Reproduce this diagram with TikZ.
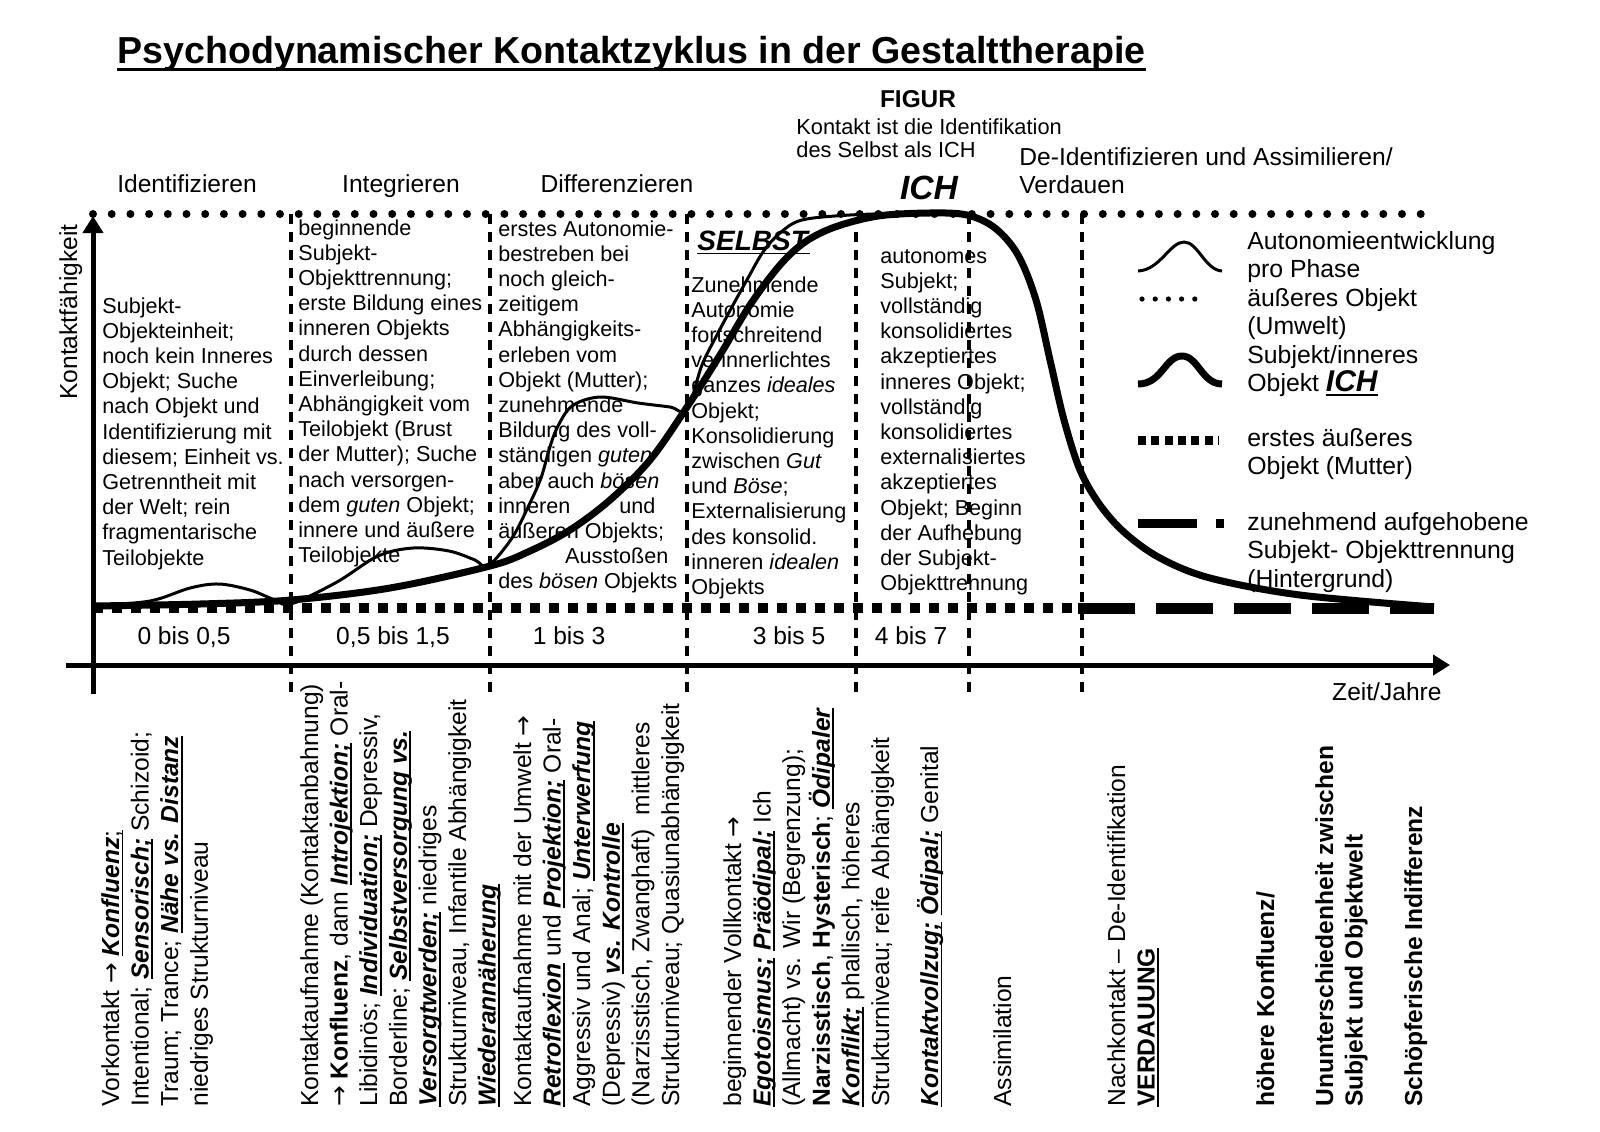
\documentclass[tikz,border=0pt]{standalone}
\usepackage{fontspec}
\setmainfont{Liberation Sans}
\newfontfamily\arrowfont{DejaVu Sans}
\usetikzlibrary{arrows.meta}
\newcommand\myul[1]{\leavevmode\setbox0\hbox{#1}\rlap{\rule[-2.2pt]{\wd0}{0.9pt}}\box0\relax}
\newcommand\bfit[1]{\textbf{\textit{#1}}}
\newcommand\arr{{\arrowfont →}}
\newcommand\vlines[1]{\vtop{\halign{##\hfil\cr#1\crcr}}}
\tikzset{
 txt/.style={inner sep=0pt, anchor=base west, font=\fontsize{10.8}{12.6}\selectfont},
 rottxt/.style={inner sep=0pt, rotate=90, anchor=base west, font=\fontsize{12.3}{14.8}\selectfont},
 lgd/.style={inner sep=0pt, anchor=base west, font=\fontsize{12.4}{14.25}\selectfont},
 hdr/.style={inner sep=0pt, anchor=base, font=\fontsize{12.3}{14}\selectfont},
 phaseline/.style={line width=1.6pt, dash pattern=on 5pt off 4pt},
 umwelt/.style={line width=4pt, line cap=round, dash pattern=on 0pt off 9.35pt},
 mutter/.style={line width=5pt, dash pattern=on 4.75pt off 4.75pt},
 hinter/.style={line width=5.5pt, dash pattern=on 28.5pt off 10.5pt},
 ichcurve/.style={line width=3.5pt, line join=round},
 autocurve/.style={line width=1.5pt, line join=round},
 axisline/.style={line width=2.5pt, -{Triangle[length=8.5pt,width=10pt]}},
}
\begin{document}
\begin{tikzpicture}[x=0.5pt,y=-0.5pt]
\fill[white] (0,0) rectangle (1600,1131);
\useasboundingbox (0,0) rectangle (1600,1131);

% title
\node[inner sep=0pt, anchor=base west, font=\fontsize{18.8}{22}\selectfont\bfseries] (title) at (117,63) {Psychodynamischer Kontaktzyklus in der Gestalttherapie};
\draw[line width=1.6pt] ([yshift=-3.4pt]title.base west) -- ([yshift=-3.4pt]title.base east);

% headers
\node[hdr] (h1) at (187,192) {Identifizieren};
\node[hdr] (h2) at (401,192) {Integrieren};
\node[hdr] (h3) at (617,192) {Differenzieren};
\node[inner sep=0pt, anchor=base west, font=\fontsize{12.3}{14}\selectfont] (h5) at (1019,165) {\vlines{De-Identifizieren und Assimilieren/\cr Verdauen}};
\node[inner sep=0pt, anchor=base, font=\fontsize{12.2}{14}\selectfont\bfseries] (figur) at (918,107) {FIGUR};
\node[inner sep=0pt, anchor=base west, font=\fontsize{10.9}{11.5}\selectfont] (kontakt) at (796,134) {\vlines{Kontakt ist die Identifikation\cr des Selbst als ICH}};
\node[inner sep=0pt, anchor=base, font=\fontsize{16.8}{18}\selectfont\bfseries\itshape] (ich) at (929,199) {ICH};

% axis labels
\node[inner sep=0pt, rotate=90, anchor=base west, font=\fontsize{12.3}{14}\selectfont] (ylab) at (77,400) {Kontaktfähigkeit};
\node[inner sep=0pt, anchor=base east, font=\fontsize{12.3}{14}\selectfont] (xlab) at (1442,700) {Zeit/Jahre};

% ages
\node[hdr] (a1) at (184,644) {0 bis 0,5};
\node[hdr] (a2) at (393,644) {0,5 bis 1,5};
\node[hdr] (a3) at (569,644) {1 bis 3};
\node[hdr] (a4) at (789,644) {3 bis 5};
\node[hdr] (a5) at (911,644) {4 bis 7};

% chart texts
\node[txt] (b1) at (102,313) {\vlines{Subjekt-\cr Objekteinheit;\cr noch kein Inneres\cr Objekt; Suche\cr nach Objekt und\cr Identifizierung mit\cr diesem; Einheit vs.\cr Getrenntheit mit\cr der Welt; rein\cr fragmentarische\cr Teilobjekte}};
\node[txt] (b2) at (298,235) {\vlines{beginnende\cr Subjekt-\cr Objekttrennung;\cr erste Bildung eines\cr inneren Objekts\cr durch dessen\cr Einverleibung;\cr Abhängigkeit vom\cr Teilobjekt (Brust\cr der Mutter); Suche\cr nach versorgen-\cr dem \textit{guten} Objekt;\cr innere und äußere\cr Teilobjekte}};
\node[txt] (b3) at (498,236) {\vlines{erstes Autonomie-\cr bestreben bei\cr noch gleich-\cr zeitigem\cr Abhängigkeits-\cr erleben vom\cr Objekt (Mutter);\cr zunehmende\cr Bildung des voll-\cr ständigen \textit{guten}\cr aber auch \textit{bösen}\cr \makebox[78.5pt][s]{inneren\hfill und}\cr äußeren Objekts;\cr \makebox[85pt][r]{Ausstoßen}\cr des \textit{bösen} Objekts}};
\node[inner sep=0pt, anchor=base west, font=\fontsize{14}{16}\selectfont] (selbst) at (697,250) {\myul{\bfit{SELBST}}};
\node[txt] (b4) at (691,292) {\vlines{Zunehmende\cr Autonomie\cr fortschreitend\cr verinnerlichtes\cr ganzes \textit{ideales}\cr Objekt;\cr Konsolidierung\cr zwischen \textit{Gut}\cr und \textit{Böse};\cr Externalisierung\cr des konsolid.\cr inneren \textit{idealen}\cr Objekts}};
\node[txt] (b5) at (880,263) {\vlines{autonomes\cr Subjekt;\cr vollständig\cr konsolidiertes\cr akzeptiertes\cr inneres Objekt;\cr vollständig\cr konsolidiertes\cr externalisiertes\cr akzeptiertes\cr Objekt; Beginn\cr der Aufhebung\cr der Subjekt-\cr Objekttrennung}};

% legend
\node[lgd] (l1) at (1247,249) {\vlines{Autonomieentwicklung\cr pro Phase\cr äußeres Objekt\cr (Umwelt)\cr Subjekt/inneres\cr Objekt \myul{\fontsize{15}{15}\selectfont\bfit{ICH}}}};
\node[lgd] (l2) at (1247,446) {\vlines{erstes äußeres\cr Objekt (Mutter)}};
\node[lgd] (l3) at (1247,530) {\vlines{zunehmend aufgehobene\cr Subjekt- Objekttrennung\cr (Hintergrund)}};

% rotated texts
\node[rottxt] (r1) at (119,1107) {\vlines{Vorkontakt \arr{} \myul{\bfit{Konfluenz};}\cr Intentional; \myul{\bfit{Sensorisch;}} Schizoid;\cr Traum; Trance; \myul{\bfit{Nähe vs. Distanz}}\cr niedriges Strukturniveau}};
\node[rottxt] (r2) at (318,1107) {\vlines{Kontaktaufnahme (Kontaktanbahnung)\cr \arr{} \textbf{Konfluenz}, dann \myul{\bfit{Introjektion;}} Oral-\cr Libidinös; \myul{\bfit{Individuation;}} Depressiv,\cr Borderline; \myul{\bfit{Selbstversorgung vs.}}\cr \myul{\bfit{Versorgtwerden;}} niedriges\cr Strukturniveau, Infantile Abhängigkeit\cr \myul{\bfit{Wiederannäherung}}}};
\node[rottxt] (r3) at (531,1107) {\vlines{Kontaktaufnahme mit der Umwelt \arr\cr \myul{\bfit{Retroflexion}} und \myul{\bfit{Projektion;}} Oral-\cr Aggressiv und Anal; \myul{\bfit{Unterwerfung}}\cr (Depressiv) \myul{\bfit{vs. Kontrolle}}\cr (Narzisstisch, Zwanghaft)\ \ mittleres\cr Strukturniveau; Quasiunabhängigkeit}};
\node[rottxt] (r4) at (741,1107) {\vlines{beginnender Vollkontakt \arr\cr \myul{\bfit{Egotoismus;}} \myul{\bfit{Präödipal;}} Ich\cr (Allmacht) vs. Wir (Begrenzung);\cr \textbf{Narzisstisch}, \textbf{Hysterisch}; \myul{\bfit{Ödipaler}}\cr \myul{\bfit{Konflikt;}} phallisch, höheres\cr Strukturniveau; reife Abhängigkeit}};
\node[rottxt] (r5) at (938,1107) {\myul{\bfit{Kontaktvollzug;}} \myul{\bfit{Ödipal;}} Genital};
\node[rottxt] (r6) at (1011,1107) {Assimilation};
\node[rottxt] (r7) at (1125,1107) {\vlines{Nachkontakt – De-Identifikation\cr \myul{\textbf{VERDAUUNG}}}};
\node[rottxt] (r8) at (1274,1107) {\textbf{höhere Konfluenz/}};
\node[rottxt] (r9) at (1333,1107) {\vlines{\textbf{Ununterschiedenheit zwischen}\cr \textbf{Subjekt und Objektwelt}}};
\node[rottxt] (r10) at (1422,1107) {\textbf{Schöpferische Indifferenz}};

% phase separators
\foreach \x/\t in {291/214,490/214,687/214,856/232,969/214,1082/214}
  \draw[phaseline] (\x,\t) -- (\x,694);

% object lines
\draw[umwelt] (93,214) -- (1434,214);
\draw[mutter] (93,608) -- (1082,608);
\draw[hinter] (1078,608) -- (1434,608);

% axes
\draw[axisline] (93,694) -- (93,216);
\draw[axisline] (66,665) -- (1450,665);

% autonomy curve (thin)
\draw[autocurve] plot[smooth, tension=0.55] coordinates {(93,606) (150,601) (190,588) (219,584) (250,590) (275,600) (291,604) (337,582) (378,556) (413,548) (449,551) (475,560) (488,566) (512,538) (529,505) (541,478) (549,450) (557,428) (572,406) (600,397) (638,403) (670,407) (687,410) (702,365) (718,333) (733,305) (748,278) (763,252) (780,233) (802,220) (850,215) (910,213)};

% ICH curve (thick)
\draw[ichcurve] plot[smooth, tension=0.55] coordinates {(93,606) (200,604) (291,600) (390,588) (490,566) (530,551) (570,530) (610,500) (650,460) (687,407) (720,355) (750,305) (780,265) (805,242) (835,227) (878,216) (929,213) (967,215) (995,228) (1018,255) (1036,300) (1050,360) (1064,420) (1080,470) (1100,505) (1125,533) (1160,558) (1210,578) (1300,595) (1434,607)};

% legend symbols
\draw[autocurve] (1138,271) .. controls (1160,270) and (1170,242) .. (1184,242) .. controls (1198,242) and (1205,270) .. (1222,271);
\draw[line width=2.6pt, line cap=round, dash pattern=on 0pt off 6.6pt] (1142,299) -- (1204,299);
\draw[ichcurve] (1138,384) .. controls (1162,384) and (1165,356) .. (1182,356) .. controls (1198,356) and (1202,384) .. (1222,384);
\draw[line width=4.5pt, dash pattern=on 4pt off 2.65pt] (1138,440) -- (1218,440);
\draw[line width=4.5pt] (1138,523) -- (1197,523);
\draw[line width=4.5pt] (1216,523) -- (1224,523);
\end{tikzpicture}
\end{document}
